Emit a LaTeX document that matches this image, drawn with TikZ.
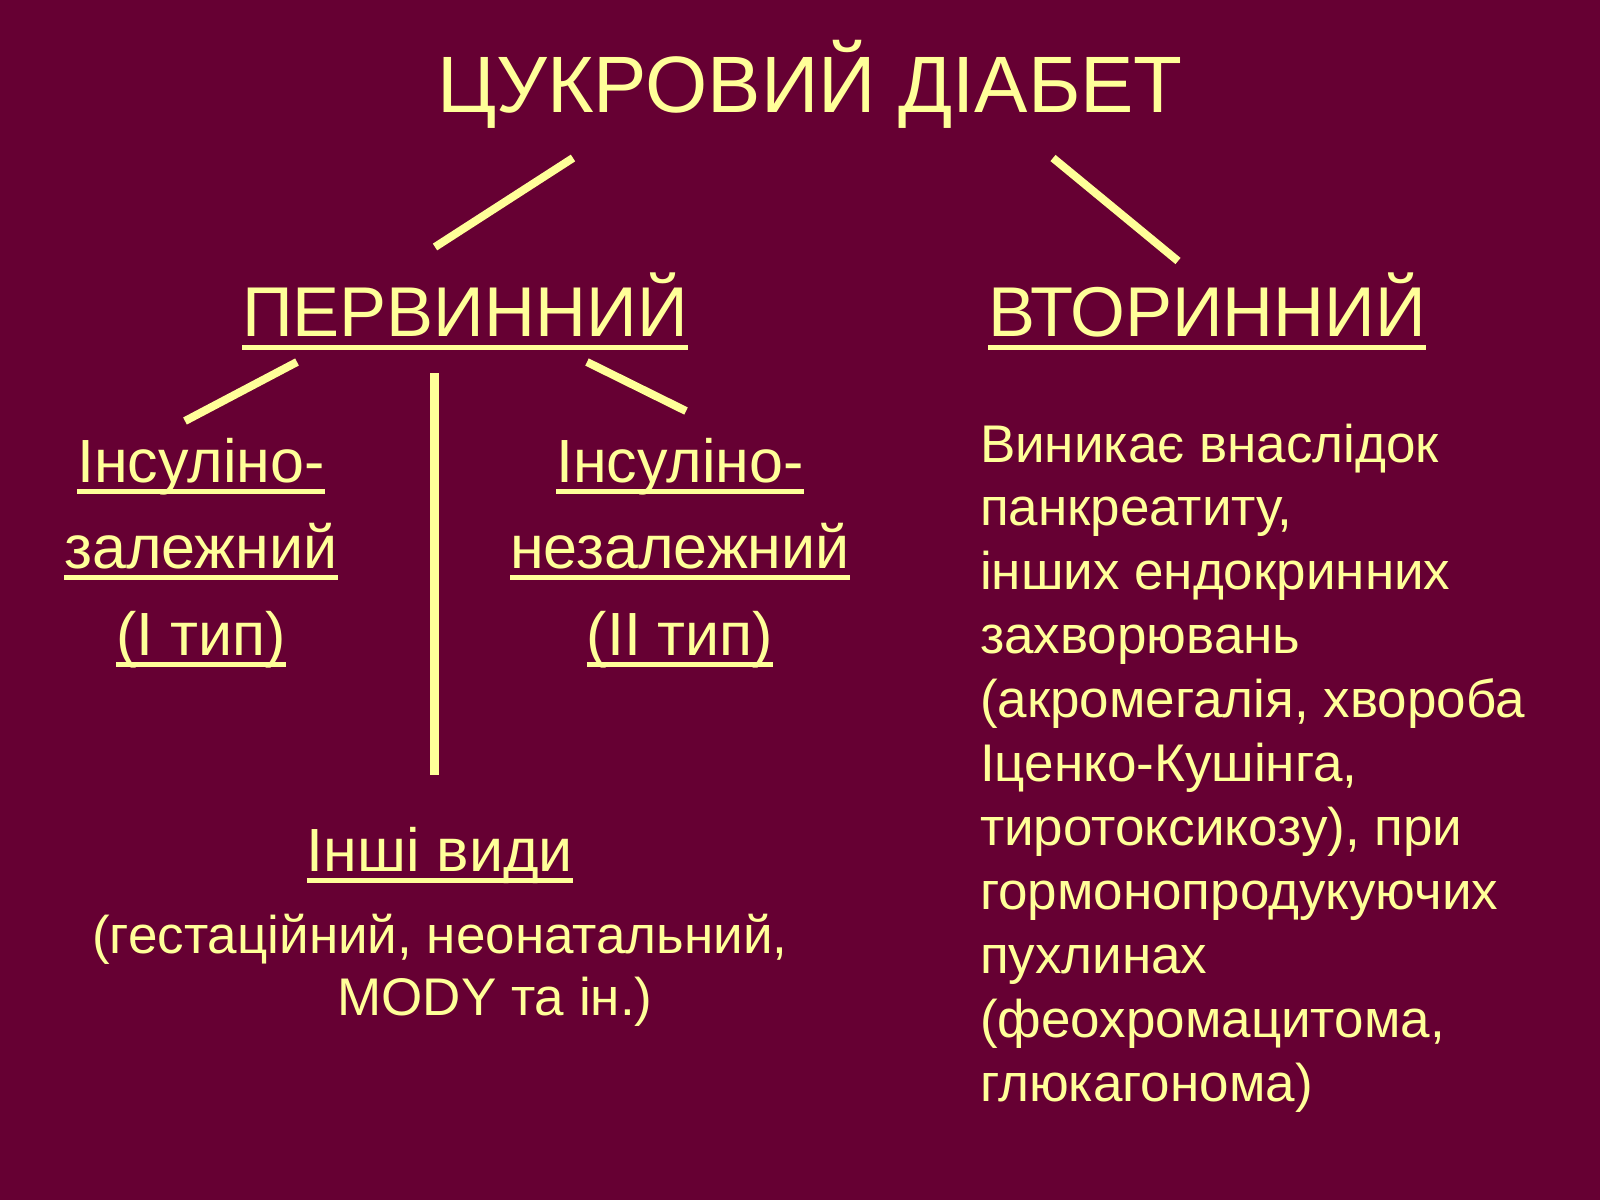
\documentclass[tikz,border=0pt]{standalone}
\usepackage{fontspec}
\setmainfont{Liberation Sans}
\definecolor{bgc}{HTML}{660033}
\definecolor{txc}{HTML}{FFFF99}
\tikzset{
  lbl/.style={inner sep=0pt, outer sep=0pt, anchor=base, text=txc},
  fT/.style={font=\fontsize{80}{96}\selectfont},
  fH/.style={font=\fontsize{70.5}{84}\selectfont},
  fM/.style={font=\fontsize{61}{73}\selectfont},
  fS/.style={font=\fontsize{53}{64}\selectfont},
  fR/.style={font=\fontsize{53}{64}\selectfont},
  conn/.style={draw=txc, line width=8pt, line cap=butt},
  ul/.style={draw=txc, line width=5pt}
}
\newcommand{\ulnode}[2]{\draw[ul] ([yshift=-#2]#1.base west) -- ([yshift=-#2]#1.base east);}
\begin{document}
\begin{tikzpicture}[x=1pt,y=-1pt]
\fill[bgc] (0,0) rectangle (1600,1200);
\useasboundingbox (0,0) rectangle (1600,1200);

% texts
\node[lbl,fT] (title) at (810,112) {ЦУКРОВИЙ ДІАБЕТ};
\node[lbl,fH] (perv) at (465,336) {ПЕРВИННИЙ};
\node[lbl,fH] (vtor) at (1207,336) {ВТОРИННИЙ};
\ulnode{perv}{11.5}
\ulnode{vtor}{11.5}

\node[lbl,fM] (a1) at (201,482) {Інсуліно-};
\node[lbl,fM] (a2) at (201,568) {залежний};
\node[lbl,fM] (a3) at (201,655) {(І тип)};
\node[lbl,fM] (b1) at (680,482) {Інсуліно-};
\node[lbl,fM] (b2) at (680,568) {незалежний};
\node[lbl,fM] (b3) at (680,655) {(ІІ тип)};
\foreach \n in {a1,a2,a3,b1,b2,b3} {\ulnode{\n}{9}}

\node[lbl,fM] (inshi) at (440,871) {Інші види};
\ulnode{inshi}{9.5}
\node[lbl,fS] (p1) at (440,953) {(гестаційний, неонатальний,};
\node[lbl,fS] (p2) at (495,1015) {MODY та ін.)};

% right paragraph
\foreach \t [count=\i from 0] in {%
  {Виникає внаслідок},
  {панкреатиту,},
  {інших ендокринних},
  {захворювань},
  {(акромегалія, хвороба},
  {Іценко-Кушінга,},
  {тиротоксикозу), при},
  {гормонопродукуючих},
  {пухлинах},
  {(феохромацитома,},
  {глюкагонома)}}
  {\node[lbl,fR,anchor=base west] (r\i) at (980,462+63.9*\i) {\t};}

% connectors
\coordinate (c1a) at (573,158);
\coordinate (c1b) at (435,247);
\coordinate (c2a) at (1053,158);
\coordinate (c2b) at (1178,261);
\coordinate (c3a) at (297,362);
\coordinate (c3b) at (185,421);
\coordinate (c4a) at (434.5,373);
\coordinate (c4b) at (434.5,775);
\coordinate (c5a) at (587,362);
\coordinate (c5b) at (686,411);
\draw[conn] (c1a) -- (c1b);
\draw[conn] (c2a) -- (c2b);
\draw[conn] (c3a) -- (c3b);
\draw[conn, line width=9pt] (c4a) -- (c4b);
\draw[conn] (c5a) -- (c5b);
\end{tikzpicture}
\end{document}
